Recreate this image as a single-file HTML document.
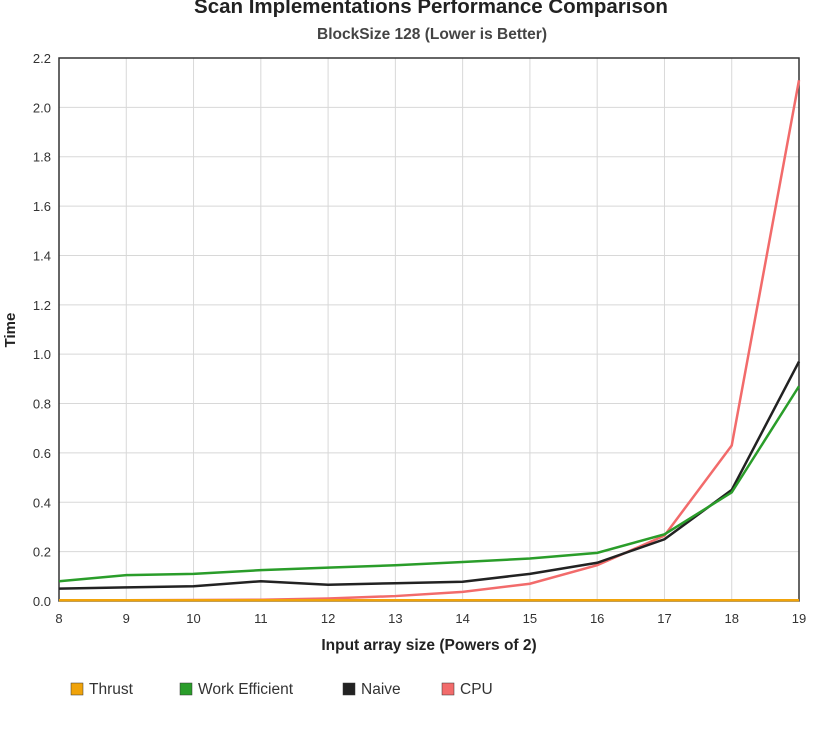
<!DOCTYPE html>
<html><head><meta charset="utf-8"><style>
body{margin:0;background:#fff;font-family:"Liberation Sans",sans-serif}
svg text{font-family:"Liberation Sans",sans-serif}
</style></head><body>
<svg id="c" width="827" height="731">
<text x="431" y="13" text-anchor="middle" font-size="20.5" font-weight="bold" fill="#222">Scan Implementations Performance Comparison</text>
<text x="432" y="39" text-anchor="middle" font-size="15.5" font-weight="bold" fill="#444">BlockSize 128 (Lower is Better)</text>
<text x="15" y="330" text-anchor="middle" font-size="15" font-weight="bold" fill="#222" transform="rotate(-90 15 330)">Time</text>
<text x="429" y="650" text-anchor="middle" font-size="15.5" font-weight="bold" fill="#222">Input array size (Powers of 2)</text>
<g id="grid"></g><g id="series"></g><g id="legend"></g>
</svg>
<script>
const categories=[8,9,10,11,12,13,14,15,16,17,18,19];
const yTicks=[0,0.2,0.4,0.6,0.8,1.0,1.2,1.4,1.6,1.8,2.0,2.2];
const seriesNames=["Thrust","Work Efficient","Naive","CPU"];
const seriesColors=["#f0a30a","#2a9d2a","#222222","#f26b6b"];
const thrust=[0.003,0.003,0.003,0.003,0.003,0.003,0.003,0.003,0.003,0.003,0.003,0.003];
const workEfficient=[0.08,0.105,0.11,0.125,0.135,0.145,0.158,0.172,0.195,0.27,0.44,0.87];
const naive=[0.05,0.055,0.06,0.08,0.066,0.072,0.078,0.11,0.155,0.25,0.45,0.97];
const cpu=[0.003,0.003,0.004,0.005,0.01,0.02,0.037,0.07,0.145,0.265,0.63,2.11];
const L=59,R=799,T=58,B=601,NS="http://www.w3.org/2000/svg";
const xs=v=>L+(v-8)/11*(R-L), ys=v=>B-v/2.2*(B-T);
function mk(t,a,p){const e=document.createElementNS(NS,t);for(const k in a)e.setAttribute(k,a[k]);p.appendChild(e);return e;}
const g=document.getElementById('grid');
categories.forEach(c=>{
 const l=mk('line',{x1:xs(c),x2:xs(c),y1:T,y2:B,stroke:'#d8d8d8'},g);
 
 
 const t=mk('text',{x:xs(c),y:B+22,'text-anchor':'middle','font-size':13,fill:'#333'},g);t.textContent=c;
 
 
});
yTicks.forEach(v=>{
 const l=mk('line',{x1:L,x2:R,y1:ys(v),y2:ys(v),stroke:'#d8d8d8'},g);
 
 
 const t=mk('text',{x:L-8,y:ys(v)+5,'text-anchor':'end','font-size':13,fill:'#333'},g);t.textContent=v.toFixed(1);
 
 
});
const fr=mk('rect',{x:L,y:T,width:R-L,height:B-T,fill:'none',stroke:'#333','stroke-width':1.5},g);


const s=document.getElementById('series');
[cpu,naive,workEfficient,thrust].forEach((d,i)=>{
 const idx=3-i;
 const p=mk('polyline',{points:d.map((v,j)=>xs(categories[j])+','+ys(v)).join(' '),fill:'none',stroke:seriesColors[idx],'stroke-width':2.5},s);
 
 
});
const lg=document.getElementById('legend');
const lx=[71,180,343,442];
seriesNames.forEach((n,i)=>{
 const r=mk('rect',{x:lx[i],y:683,width:12,height:12,fill:seriesColors[i],stroke:'#333','stroke-width':0.5},lg);
 
 
 const t=mk('text',{x:lx[i]+18,y:694,'font-size':15.5,fill:'#333'},lg);t.textContent=n;
 
 
});
</script>
</body></html>
